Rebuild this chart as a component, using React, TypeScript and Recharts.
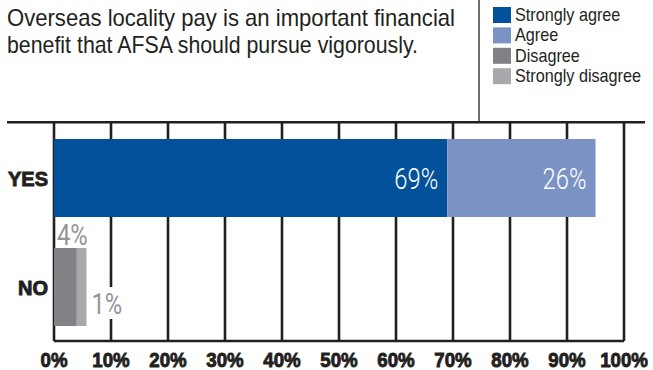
import React from 'react';
import { BarChart, Bar, XAxis, YAxis, CartesianGrid, Legend, LabelList } from 'recharts';

const categories = ['YES', 'NO'];
const seriesNames = ['Strongly agree', 'Agree', 'Disagree', 'Strongly disagree'];
const stronglyAgree = [69, 0];
const agree = [26, 0];
const disagree = [0, 4];
const stronglyDisagree = [0, 1.7];
const stronglyAgreeLabels = ['69%', ''];
const agreeLabels = ['26%', ''];
const disagreeLabels = ['', '4%'];
const stronglyDisagreeLabels = ['', '1%'];
const xTicks = [0, 10, 20, 30, 40, 50, 60, 70, 80, 90, 100];
const xTickLabels = ['0%', '10%', '20%', '30%', '40%', '50%', '60%', '70%', '80%', '90%', '100%'];
const colors = ['#03519a', '#7b93c4', '#808285', '#a7a9ac'];
const titleLines = ['Overseas locality pay is an important financial', 'benefit that AFSA should pursue vigorously.'];

const data = categories.map((c, i) => ({
  category: c,
  sa: stronglyAgree[i],
  a: agree[i],
  d: disagree[i],
  sd: stronglyDisagree[i],
}));

const INK = '#231f20';
const GREY_TXT = '#939598';
const SANS = 'Liberation Sans, Arial, sans-serif';
const LIGHT = 'Roboto, Liberation Sans, sans-serif';

const geom = (p: any) => {
  const vb = p.viewBox || {};
  return {
    x: Number(p.x ?? vb.x ?? 0),
    y: Number(p.y ?? vb.y ?? 0),
    w: Number(p.width ?? vb.width ?? 0),
    h: Number(p.height ?? vb.height ?? 0),
  };
};

const findIndex = (p: any, series: number[]) => {
  const cat = p.payload?.category;
  if (cat !== undefined) {
    const ci = categories.indexOf(cat);
    if (ci >= 0) return ci;
  }
  const v = Number(Array.isArray(p.value) ? p.value[1] - p.value[0] : p.value);
  if (v) {
    const vi = series.indexOf(v);
    if (vi >= 0) return vi;
  }
  return typeof p.index === 'number' ? p.index : -1;
};

const insideLabel = (labels: string[], series: number[]) => (p: any) => {
  const t = labels[findIndex(p, series)];
  if (!t) return null;
  const { x, y, w, h } = geom(p);
  const ax = x + w - 9;
  const ay = y + h / 2 + 10.5;
  return (
    <text transform={`translate(${ax},${ay}) scale(0.82,1)`} textAnchor="end" fill="#ffffff"
      fontFamily={LIGHT} fontWeight={300} fontSize={29}>{t}</text>
  );
};

const aboveLabel = (labels: string[], series: number[]) => (p: any) => {
  const t = labels[findIndex(p, series)];
  if (!t) return null;
  const { x, y } = geom(p);
  return (
    <text transform={`translate(${x + 3},${y - 3}) scale(0.82,1)`} textAnchor="start" fill={GREY_TXT}
      fontFamily={LIGHT} fontWeight={400} fontSize={29}>{t}</text>
  );
};

const rightLabel = (labels: string[], series: number[]) => (p: any) => {
  const t = labels[findIndex(p, series)];
  if (!t) return null;
  const { x, y, w, h } = geom(p);
  const lx = x + w + 5;
  const cy = y + h / 2 + 16;
  return (
    <g>
      <rect x={lx - 2} y={cy - 16} width={33} height={32} fill="#ffffff" />
      <text transform={`translate(${lx},${cy + 10.5}) scale(0.82,1)`} textAnchor="start" fill={GREY_TXT}
        fontFamily={LIGHT} fontWeight={400} fontSize={29}>{t}</text>
    </g>
  );
};

const XTick = (p: any) => {
  const idx = xTicks.indexOf(Number(p.payload?.value));
  const label = idx >= 0 ? xTickLabels[idx] : String(p.payload?.value);
  return (
    <text transform={`translate(${p.x},${p.y + 26}) scale(0.89,1)`} textAnchor="middle" fill={INK}
      stroke={INK} strokeWidth={0.9} fontFamily={SANS} fontWeight="bold" fontSize={21}>{label}</text>
  );
};

const YTick = (p: any) => (
  <text x={48} y={p.y + 8.5} textAnchor="end" fill={INK} stroke={INK} strokeWidth={0.9}
    fontFamily={SANS} fontWeight="bold" fontSize={20}>{p.payload?.value}</text>
);

const LegendContent = (props: any) => {
  const payload = props.payload || [];
  const items = seriesNames.map((n, i) => {
    const found = payload.find((q: any) => q.value === n);
    return { value: n, color: found?.color || colors[i] };
  });
  return (
    <svg width={163} height={92} style={{ display: 'block' }}>
      {items.map((it, i) => (
        <g key={it.value} transform={`translate(0,${7 + i * 20.4})`}>
          <rect x={3} y={0} width={18} height={16} fill={it.color} />
          <text transform="translate(25,14) scale(0.9,1)" fontFamily={SANS} fontSize={18} fill={INK}>{it.value}</text>
        </g>
      ))}
    </svg>
  );
};

export default function App() {
  return (
    <div style={{ position: 'absolute', left: 0, top: 0, width: 653, height: 370, background: '#ffffff' }}>
      <BarChart
        width={653}
        height={370}
        data={data}
        layout="vertical"
        margin={{ top: 123, right: 29, bottom: 0, left: 0 }}
        barSize={78}
      >
        <CartesianGrid horizontal={false} vertical stroke={INK} strokeWidth={2.6} />
        <XAxis
          type="number"
          domain={[0, 100]}
          ticks={xTicks}
          interval={0}
          height={29}
          tickSize={0}
          tickMargin={0}
          tickLine={false}
          axisLine={{ stroke: INK, strokeWidth: 2.6 }}
          tick={<XTick />}
        />
        <YAxis
          type="category"
          dataKey="category"
          width={54}
          tickSize={0}
          tickMargin={0}
          tickLine={false}
          axisLine={false}
          tick={<YTick />}
        />
        <Legend
          layout="vertical"
          align="center"
          verticalAlign="middle"
          wrapperStyle={{ position: 'absolute', top: 0, left: 490, width: 163, height: 92 }}
          content={<LegendContent />}
        />
        <Bar dataKey="sa" name={seriesNames[0]} stackId="s" fill={colors[0]} isAnimationActive={false}>
          <LabelList dataKey="sa" content={insideLabel(stronglyAgreeLabels, stronglyAgree)} />
        </Bar>
        <Bar dataKey="a" name={seriesNames[1]} stackId="s" fill={colors[1]} isAnimationActive={false}>
          <LabelList dataKey="a" content={insideLabel(agreeLabels, agree)} />
        </Bar>
        <Bar dataKey="d" name={seriesNames[2]} stackId="s" fill={colors[2]} isAnimationActive={false}>
          <LabelList dataKey="d" content={aboveLabel(disagreeLabels, disagree)} />
        </Bar>
        <Bar dataKey="sd" name={seriesNames[3]} stackId="s" fill={colors[3]} isAnimationActive={false}>
          <LabelList dataKey="sd" content={rightLabel(stronglyDisagreeLabels, stronglyDisagree)} />
        </Bar>
      </BarChart>
      <svg width={653} height={370} style={{ position: 'absolute', left: 0, top: 0, pointerEvents: 'none' }}>
        <text x={7} y={26} fontFamily={SANS} fontSize={24} fill={INK} textLength={448} lengthAdjust="spacingAndGlyphs">{titleLines[0]}</text>
        <text x={7} y={53} fontFamily={SANS} fontSize={24} fill={INK} textLength={411} lengthAdjust="spacingAndGlyphs">{titleLines[1]}</text>
        <line x1={479} y1={0} x2={479} y2={122} stroke={INK} strokeWidth={1.3} />
        <line x1={7} y1={122.2} x2={645} y2={122.2} stroke={INK} strokeWidth={2.6} />
      </svg>
    </div>
  );
}
